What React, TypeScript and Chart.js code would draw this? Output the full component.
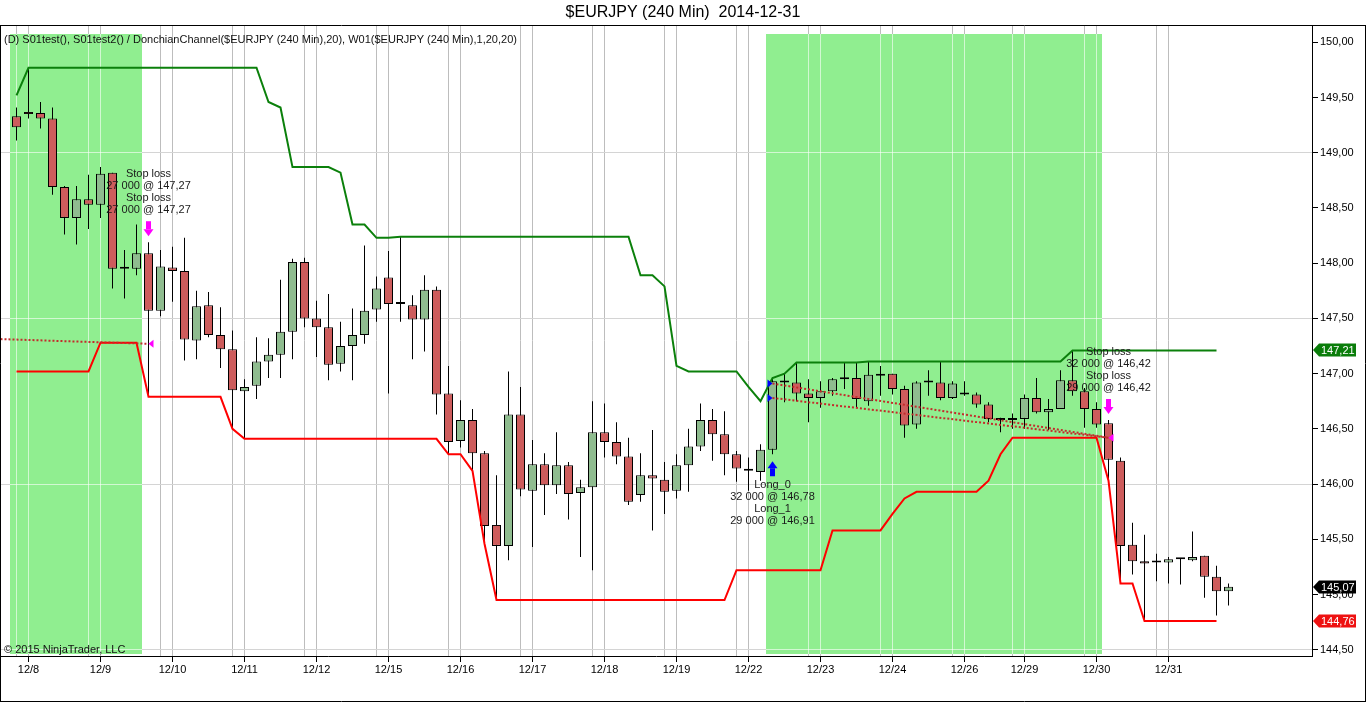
import React, { useEffect, useRef } from 'react';
import { Chart, registerables } from 'chart.js';

Chart.register(...registerables);

// ---- candle data (4-hour bars, index 0..101) ----
const opens = [
  149.33, 149.37, 149.36, 149.31, 148.69, 148.41, 148.58, 148.53, 148.82, 147.96,
  147.95, 148.09, 147.57, 147.96, 147.93, 147.30, 147.62, 147.35, 147.22, 146.84,
  146.89, 147.11, 147.17, 147.38, 148.01, 147.50, 147.42, 147.09, 147.25, 147.35,
  147.58, 147.87, 147.63, 147.62, 147.49, 147.76, 146.82, 146.39, 146.58, 146.28,
  145.63, 145.44, 146.63, 145.94, 146.18, 145.99, 146.17, 145.92, 145.97, 146.47,
  146.38, 146.25, 145.90, 146.08, 146.04, 145.94, 146.17, 146.34, 146.58, 146.45,
  146.27, 146.12, 146.11, 146.31, 146.93, 146.92, 146.82, 146.78, 146.84, 146.96,
  146.96, 146.75, 146.98, 147.00, 146.86, 146.54, 146.92, 146.92, 146.78, 146.82,
  146.81, 146.72, 146.59, 146.58, 146.59, 146.78, 146.65, 146.68, 146.94, 146.84,
  146.68, 146.55, 146.21, 145.45, 145.30, 145.29, 145.29, 145.32, 145.31, 145.35,
  145.16, 145.03,
];
const highs = [
  149.41, 149.77, 149.46, 149.41, 148.70, 148.70, 148.80, 148.87, 148.82, 148.12,
  148.35, 148.19, 148.12, 148.15, 148.23, 147.75, 147.74, 147.60, 147.39, 146.95,
  147.33, 147.32, 147.85, 148.04, 148.05, 147.66, 147.72, 147.47, 147.59, 148.16,
  147.88, 148.11, 148.24, 147.71, 147.89, 147.79, 147.07, 146.76, 146.68, 146.30,
  146.08, 147.02, 146.88, 146.40, 146.28, 146.47, 146.20, 146.04, 146.75, 146.73,
  146.56, 146.42, 146.28, 146.49, 146.20, 146.27, 146.50, 146.73, 146.68, 146.66,
  146.30, 146.24, 146.36, 146.96, 147.00, 147.10, 146.95, 146.93, 146.96, 147.10,
  147.10, 147.11, 147.07, 147.00, 146.89, 146.93, 147.03, 147.11, 146.93, 146.93,
  146.83, 146.74, 146.60, 146.64, 146.81, 146.96, 146.77, 147.03, 147.21, 146.87,
  146.74, 146.58, 146.24, 145.65, 145.54, 145.37, 145.34, 145.33, 145.57, 145.35,
  145.26, 145.10,
];
const lows = [
  149.11, 149.31, 149.22, 148.62, 148.26, 148.17, 148.31, 148.41, 147.77, 147.68,
  147.89, 146.79, 147.52, 147.65, 147.12, 147.13, 147.33, 147.05, 146.50, 146.41,
  146.77, 146.96, 146.96, 147.13, 147.42, 147.15, 146.94, 147.02, 146.94, 147.27,
  147.47, 146.82, 147.47, 147.13, 147.20, 146.63, 146.27, 146.33, 146.12, 145.46,
  144.95, 145.31, 145.89, 145.43, 145.72, 145.91, 145.68, 145.34, 145.22, 146.24,
  146.18, 145.81, 145.84, 145.58, 145.73, 145.87, 145.93, 146.30, 146.21, 146.08,
  146.02, 145.94, 146.03, 146.27, 146.74, 146.75, 146.56, 146.69, 146.80, 146.86,
  146.69, 146.71, 146.80, 146.81, 146.42, 146.50, 146.80, 146.76, 146.77, 146.80,
  146.69, 146.56, 146.47, 146.50, 146.50, 146.64, 146.49, 146.68, 146.80, 146.51,
  146.51, 146.03, 145.10, 145.18, 144.76, 145.12, 145.10, 145.09, 145.30, 144.97,
  144.81, 144.90,
];
const closes = [
  149.23, 149.35, 149.31, 148.69, 148.41, 148.58, 148.53, 148.81, 147.95, 147.95,
  148.09, 147.57, 147.97, 147.93, 147.31, 147.61, 147.35, 147.22, 146.85, 146.88,
  147.11, 147.17, 147.38, 148.01, 147.50, 147.42, 147.08, 147.25, 147.35, 147.57,
  147.77, 147.63, 147.63, 147.49, 147.76, 146.81, 146.38, 146.58, 146.28, 145.62,
  145.44, 146.63, 145.95, 146.18, 145.99, 146.17, 145.91, 145.97, 146.47, 146.38,
  146.25, 145.84, 146.08, 146.05, 145.93, 146.17, 146.34, 146.58, 146.45, 146.27,
  146.14, 146.12, 146.31, 146.93, 146.92, 146.82, 146.78, 146.84, 146.95, 146.95,
  146.77, 146.99, 147.00, 146.86, 146.53, 146.92, 146.92, 146.78, 146.91, 146.81,
  146.72, 146.59, 146.58, 146.59, 146.78, 146.65, 146.68, 146.94, 146.84, 146.68,
  146.54, 146.22, 145.44, 145.30, 145.28, 145.29, 145.32, 145.32, 145.34, 145.16,
  145.03, 145.07,
];

// ---- Donchian channel (20) ----
const upperChannel = [
  149.52, 149.77, 149.77, 149.77, 149.77, 149.77, 149.77, 149.77, 149.77, 149.77,
  149.77, 149.77, 149.77, 149.77, 149.77, 149.77, 149.77, 149.77, 149.77, 149.77,
  149.77, 149.46, 149.41, 148.87, 148.87, 148.87, 148.87, 148.82, 148.35, 148.35,
  148.23, 148.23, 148.24, 148.24, 148.24, 148.24, 148.24, 148.24, 148.24, 148.24,
  148.24, 148.24, 148.24, 148.24, 148.24, 148.24, 148.24, 148.24, 148.24, 148.24,
  148.24, 148.24, 147.89, 147.89, 147.79, 147.07, 147.02, 147.02, 147.02, 147.02,
  147.02, 146.88, 146.75, 146.96, 147.00, 147.10, 147.10, 147.10, 147.10, 147.10,
  147.10, 147.11, 147.11, 147.11, 147.11, 147.11, 147.11, 147.11, 147.11, 147.11,
  147.11, 147.11, 147.11, 147.11, 147.11, 147.11, 147.11, 147.11, 147.21, 147.21,
  147.21, 147.21, 147.21, 147.21, 147.21, 147.21, 147.21, 147.21, 147.21, 147.21,
  147.21,
];
const lowerChannel = [
  147.02, 147.02, 147.02, 147.02, 147.02, 147.02, 147.02, 147.28, 147.28, 147.28,
  147.28, 146.79, 146.79, 146.79, 146.79, 146.79, 146.79, 146.79, 146.50, 146.41,
  146.41, 146.41, 146.41, 146.41, 146.41, 146.41, 146.41, 146.41, 146.41, 146.41,
  146.41, 146.41, 146.41, 146.41, 146.41, 146.41, 146.27, 146.27, 146.12, 145.46,
  144.95, 144.95, 144.95, 144.95, 144.95, 144.95, 144.95, 144.95, 144.95, 144.95,
  144.95, 144.95, 144.95, 144.95, 144.95, 144.95, 144.95, 144.95, 144.95, 144.95,
  145.22, 145.22, 145.22, 145.22, 145.22, 145.22, 145.22, 145.22, 145.58, 145.58,
  145.58, 145.58, 145.58, 145.73, 145.87, 145.93, 145.93, 145.93, 145.93, 145.93,
  145.93, 146.03, 146.27, 146.42, 146.42, 146.42, 146.42, 146.42, 146.42, 146.42,
  146.42, 146.03, 145.10, 145.10, 144.76, 144.76, 144.76, 144.76, 144.76, 144.76,
  144.76,
];

// ---- stop lines ----
const shortStopBars = [-2, 11];
const shortStopPrices = [147.315, 147.27];
const longStopBars = [63, 91];
const longStop0Prices = [146.91, 146.42];
const longStop1Prices = [146.78, 146.42];

// ---- trades ----
const exitBars = [11, 91];
const exitPrices = [147.27, 146.42];
const exitLabels = [
  ['Stop loss', '27 000 @ 147,27', 'Stop loss', '27 000 @ 147,27'],
  ['Stop loss', '32 000 @ 146,42', 'Stop loss', '29 000 @ 146,42'],
];
const entryBars = [63];
const entryPrices = [[146.78, 146.91]];
const entryLabels = [['Long_0', '32 000 @ 146,78', 'Long_1', '29 000 @ 146,91']];

// ---- shaded sessions (bar index ranges) ----
const shadeFromBars = [0, 63];
const shadeToBars = [10, 90];

// ---- axes ----
const dateTickBars = [1, 7, 13, 19, 25, 31, 37, 43, 49, 55, 61, 67, 73, 79, 84, 90, 96];
const dateTickLabels = ['12/8', '12/9', '12/10', '12/11', '12/12', '12/15', '12/16', '12/17', '12/18', '12/19', '12/22', '12/23', '12/24', '12/26', '12/29', '12/30', '12/31'];
const priceTicks = [144.5, 145, 145.5, 146, 146.5, 147, 147.5, 148, 148.5, 149, 149.5, 150];
const priceGridLines = [144.5, 146, 147.5, 149];

const TITLE = '$EURJPY (240 Min)  2014-12-31';
const INFO = '(D) S01test(), S01test2() / DonchianChannel($EURJPY (240 Min),20), W01($EURJPY (240 Min),1,20,20)';
const COPYRIGHT = '\u00A9 2015 NinjaTrader, LLC';

const FONT = '"Liberation Sans", Arial, sans-serif';
const X_MIN = -1.375;
const X_MAX = X_MIN + 1312 / 12;
const Y_MIN = 144.443;
const Y_MAX = 150.157;

const fmt = (v: number) => v.toFixed(2).replace('.', ',');

const gridBars: number[] = [];
dateTickBars.forEach((b) => {
  gridBars.push(b - 1, b);
});

const overlayPlugin = {
  id: 'ntOverlay',
  beforeDatasetsDraw(chart: any) {
    const { ctx, chartArea: a } = chart;
    const xs = chart.scales.x;
    const ys = chart.scales.y;
    ctx.save();
    for (let k = 0; k < shadeFromBars.length; k++) {
      const x0 = xs.getPixelForValue(shadeFromBars[k] - 0.5) - 0.5;
      const x1 = xs.getPixelForValue(shadeToBars[k] + 0.5) - 0.5;
      const t = a.top + 9;
      const b = a.bottom - 2;
      ctx.fillStyle = '#90ee90';
      ctx.fillRect(x0, t, x1 - x0, b - t);
      ctx.strokeStyle = 'rgba(255,255,255,0.6)';
      ctx.lineWidth = 1;
      ctx.beginPath();
      gridBars.forEach((g) => {
        const px = xs.getPixelForValue(g);
        if (px > x0 && px < x1) {
          ctx.moveTo(px, t);
          ctx.lineTo(px, b);
        }
      });
      priceGridLines.forEach((p) => {
        const py = Math.round(ys.getPixelForValue(p) - 0.5) + 0.5;
        ctx.moveTo(x0, py);
        ctx.lineTo(x1, py);
      });
      ctx.stroke();
    }
    ctx.restore();
  },
  afterDatasetsDraw(chart: any) {
    const { ctx } = chart;
    const xs = chart.scales.x;
    const ys = chart.scales.y;
    ctx.save();
    ctx.font = `11px ${FONT}`;
    ctx.textAlign = 'center';
    ctx.textBaseline = 'middle';
    exitBars.forEach((bar, k) => {
      const cx = xs.getPixelForValue(bar);
      const bottom = ys.getPixelForValue(highs[bar]) - 6;
      const top = bottom - 15;
      ctx.fillStyle = '#ff00ff';
      ctx.fillRect(cx - 2.5, top, 5, 8);
      ctx.beginPath();
      ctx.moveTo(cx - 5, top + 8);
      ctx.lineTo(cx + 5, top + 8);
      ctx.lineTo(cx, bottom);
      ctx.closePath();
      ctx.fill();
      const py = ys.getPixelForValue(exitPrices[k]);
      ctx.beginPath();
      ctx.moveTo(cx, py);
      ctx.lineTo(cx + 5, py - 4);
      ctx.lineTo(cx + 5, py + 4);
      ctx.closePath();
      ctx.fill();
      ctx.fillStyle = '#1a1a1a';
      const lines = exitLabels[k];
      lines.forEach((txt, j) => {
        ctx.fillText(txt, cx, top - 11 - (lines.length - 1 - j) * 12);
      });
    });
    entryBars.forEach((bar, k) => {
      const cx = xs.getPixelForValue(bar);
      const tip = ys.getPixelForValue(lows[bar]) + 7;
      ctx.fillStyle = '#0000ff';
      ctx.beginPath();
      ctx.moveTo(cx, tip);
      ctx.lineTo(cx + 5, tip + 7);
      ctx.lineTo(cx - 5, tip + 7);
      ctx.closePath();
      ctx.fill();
      ctx.fillRect(cx - 2.5, tip + 7, 5, 8);
      entryPrices[k].forEach((p) => {
        const py = ys.getPixelForValue(p);
        ctx.beginPath();
        ctx.moveTo(cx, py);
        ctx.lineTo(cx - 5, py - 4);
        ctx.lineTo(cx - 5, py + 4);
        ctx.closePath();
        ctx.fill();
      });
      ctx.fillStyle = '#1a1a1a';
      entryLabels[k].forEach((txt, j) => {
        ctx.fillText(txt, cx, tip + 24 + j * 12);
      });
    });
    ctx.restore();
  },
  afterDraw(chart: any) {
    const { ctx, chartArea: a, width, height } = chart;
    const ys = chart.scales.y;
    ctx.save();
    // frame
    ctx.strokeStyle = '#000';
    ctx.lineWidth = 1;
    ctx.beginPath();
    ctx.moveTo(0, a.top + 0.5);
    ctx.lineTo(width, a.top + 0.5);
    ctx.moveTo(0.5, a.top);
    ctx.lineTo(0.5, height);
    ctx.moveTo(width - 0.5, a.top);
    ctx.lineTo(width - 0.5, height);
    ctx.moveTo(0, height - 0.5);
    ctx.lineTo(width, height - 0.5);
    ctx.stroke();
    // title
    ctx.fillStyle = '#000';
    ctx.font = `16px ${FONT}`;
    ctx.textAlign = 'center';
    ctx.textBaseline = 'middle';
    ctx.fillText(TITLE, width / 2, 13);
    // info text and copyright
    ctx.font = `11px ${FONT}`;
    ctx.textAlign = 'left';
    ctx.fillStyle = '#111';
    ctx.fillText(INFO, 4, 40);
    ctx.fillText(COPYRIGHT, 4, 650);
    // price markers
    const markers = [
      { v: upperChannel[upperChannel.length - 1], c: '#0a7d0a' },
      { v: closes[closes.length - 1], c: '#000000' },
      { v: lowerChannel[lowerChannel.length - 1], c: '#ee1111' },
    ];
    markers.forEach((m) => {
      const py = Math.round(ys.getPixelForValue(m.v));
      const x0 = a.right + 1;
      ctx.fillStyle = m.c;
      ctx.beginPath();
      ctx.moveTo(x0, py);
      ctx.lineTo(x0 + 6, py - 6.5);
      ctx.lineTo(x0 + 43, py - 6.5);
      ctx.lineTo(x0 + 43, py + 6.5);
      ctx.lineTo(x0 + 6, py + 6.5);
      ctx.closePath();
      ctx.fill();
      ctx.fillStyle = '#ffffff';
      ctx.font = `11px ${FONT}`;
      ctx.textAlign = 'left';
      ctx.textBaseline = 'middle';
      ctx.fillText(fmt(m.v), x0 + 8, py + 0.5);
    });
    ctx.restore();
  },
};

export default function App() {
  const ref = useRef<HTMLCanvasElement>(null);
  useEffect(() => {
    document.body.style.margin = '0';
    const canvas = ref.current;
    if (!canvas) return;
    Chart.defaults.font.family = FONT;
    Chart.defaults.font.size = 11;
    Chart.defaults.color = '#000';

    const bars = opens.map((_, i) => i);
    const wickData = bars.map((i) => ({ x: i, y: [lows[i], highs[i]] }));
    const bodyData = bars.map((i) => ({ x: i, y: [opens[i], closes[i]] }));
    const bodyColors = bars.map((i) => (closes[i] >= opens[i] ? '#8fbc8f' : '#cd5c5c'));
    const upperData = upperChannel.map((v, i) => ({ x: i, y: v }));
    const lowerData = lowerChannel.map((v, i) => ({ x: i, y: v }));
    const shortStopData = shortStopBars.map((b, i) => ({ x: b, y: shortStopPrices[i] }));
    const longStop0Data = longStopBars.map((b, i) => ({ x: b, y: longStop0Prices[i] }));
    const longStop1Data = longStopBars.map((b, i) => ({ x: b, y: longStop1Prices[i] }));
    const labelMap = new Map<number, string>();
    dateTickBars.forEach((b, i) => labelMap.set(b, dateTickLabels[i]));

    const dotted = {
      type: 'line' as const,
      borderColor: '#c42b2b',
      borderWidth: 2,
      borderDash: [2, 2],
      pointRadius: 0,
      tension: 0,
      fill: false,
      order: 1,
    };

    const chart = new Chart(canvas, {
      type: 'line',
      data: {
        datasets: [
          {
            type: 'bar',
            label: 'wicks',
            data: wickData as any,
            backgroundColor: '#000',
            borderWidth: 0,
            barThickness: 1,
            grouped: false,
            inflateAmount: 0,
            order: 5,
          } as any,
          {
            type: 'bar',
            label: 'bodies',
            data: bodyData as any,
            backgroundColor: bodyColors,
            borderColor: '#000',
            borderWidth: 1,
            borderSkipped: false,
            barThickness: 9,
            minBarLength: 2,
            grouped: false,
            inflateAmount: 0,
            order: 4,
          } as any,
          {
            type: 'line',
            label: 'Donchian upper',
            data: upperData,
            borderColor: '#0b800b',
            borderWidth: 2,
            pointRadius: 0,
            tension: 0,
            fill: false,
            order: 2,
          },
          {
            type: 'line',
            label: 'Donchian lower',
            data: lowerData,
            borderColor: '#ff0000',
            borderWidth: 2,
            pointRadius: 0,
            tension: 0,
            fill: false,
            order: 2,
          },
          { ...dotted, label: 'stop short', data: shortStopData },
          { ...dotted, label: 'stop long 0', data: longStop0Data },
          { ...dotted, label: 'stop long 1', data: longStop1Data },
        ] as any,
      },
      options: {
        animation: false,
        responsive: false,
        maintainAspectRatio: false,
        events: [],
        layout: { padding: { top: 25, left: 0, right: 0, bottom: 0 } },
        plugins: {
          legend: { display: false },
          tooltip: { enabled: false },
          title: { display: false },
        },
        scales: {
          x: {
            type: 'linear',
            min: X_MIN,
            max: X_MAX,
            offset: false,
            afterBuildTicks: (scale: any) => {
              scale.ticks = gridBars.map((v) => ({ value: v }));
            },
            afterFit: (scale: any) => {
              scale.height = 46;
              scale.paddingLeft = 0;
              scale.paddingRight = 0;
            },
            ticks: {
              autoSkip: false,
              maxRotation: 0,
              minRotation: 0,
              padding: 1,
              color: '#000',
              font: { size: 11, family: FONT },
              callback: (v: any) => labelMap.get(Number(v)) || '',
            },
            grid: {
              offset: false,
              color: '#bdbdbd',
              lineWidth: 1,
              drawTicks: true,
              tickLength: 6,
              tickColor: (c: any) => (c.tick && labelMap.has(c.tick.value) ? '#000' : 'rgba(0,0,0,0)'),
            },
            border: { display: true, color: '#000', width: 1 },
          },
          y: {
            type: 'linear',
            position: 'right',
            min: Y_MIN,
            max: Y_MAX,
            afterBuildTicks: (scale: any) => {
              scale.ticks = priceTicks.map((v) => ({ value: v }));
            },
            afterFit: (scale: any) => {
              scale.width = 54;
              scale.paddingTop = 0;
              scale.paddingBottom = 0;
            },
            ticks: {
              autoSkip: false,
              padding: 2,
              color: '#000',
              font: { size: 11, family: FONT },
              callback: (v: any) => fmt(Number(v)),
            },
            grid: {
              color: (c: any) =>
                c.tick && priceGridLines.some((p) => Math.abs(p - c.tick.value) < 1e-6) ? '#d4d4d4' : 'rgba(0,0,0,0)',
              lineWidth: 1,
              drawTicks: true,
              tickLength: 6,
              tickColor: '#000',
            },
            border: { display: true, color: '#000', width: 1 },
          },
        },
      } as any,
      plugins: [overlayPlugin],
    });
    return () => chart.destroy();
  }, []);

  return (
    <div style={{ width: 1366, height: 702, background: '#fff' }}>
      <canvas ref={ref} width={1366} height={702} style={{ display: 'block' }} />
    </div>
  );
}
